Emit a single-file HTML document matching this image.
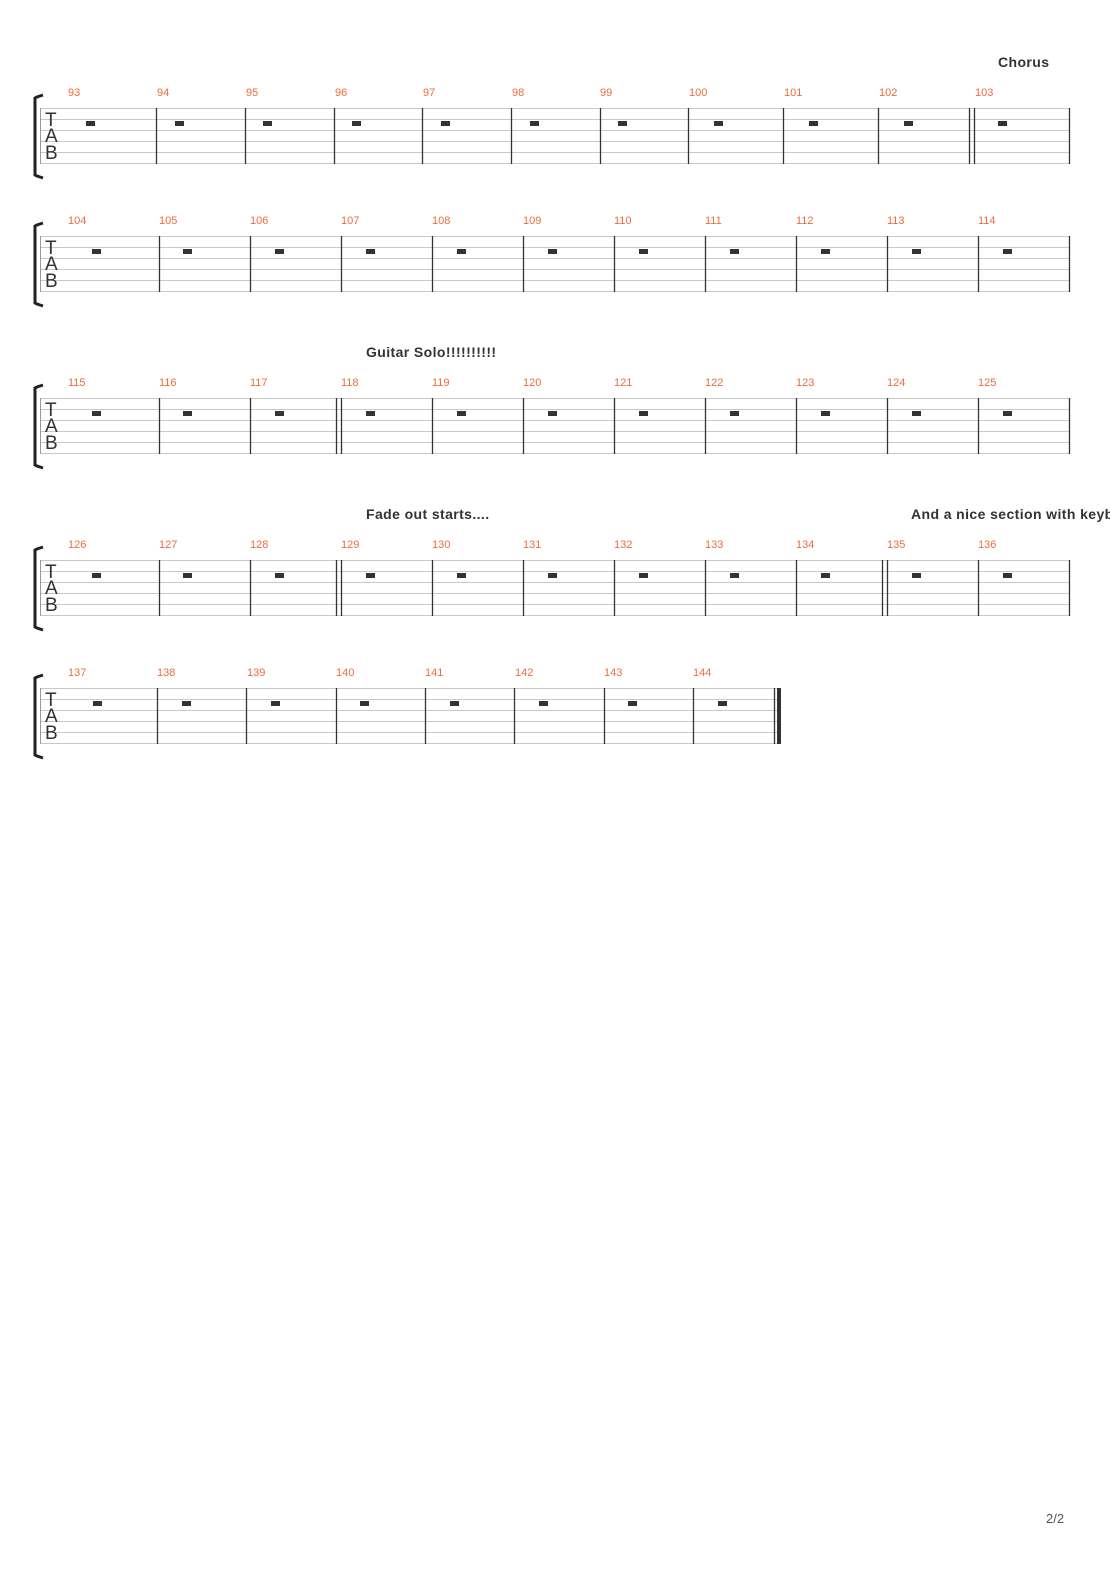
<!DOCTYPE html>
<html><head><meta charset="utf-8"><style>
html,body{margin:0;padding:0;background:#fff;width:1110px;height:1570px;overflow:hidden}
svg{display:block}
.n{font-family:"Liberation Sans",sans-serif;font-size:11px;fill:#f26a3c}
.t{font-family:"Liberation Sans",sans-serif;font-size:14px;font-weight:bold;fill:#333;letter-spacing:0.4px}
.tab{font-family:"Liberation Sans",sans-serif;font-size:19px;fill:#333}
.sl line{stroke:#c8c8c8;stroke-width:1}
.b{stroke:#333;stroke-width:1.3}
.r{fill:#333}
</style></head><body>
<svg width="1110" height="1570" viewBox="0 0 1110 1570" xmlns="http://www.w3.org/2000/svg">
<defs>
<g id="staff"><g class="sl">
<line x1="40" y1="0.5" x2="1069" y2="0.5"/><line x1="40" y1="11.5" x2="1069" y2="11.5"/><line x1="40" y1="22.5" x2="1069" y2="22.5"/><line x1="40" y1="33.5" x2="1069" y2="33.5"/><line x1="40" y1="44.5" x2="1069" y2="44.5"/><line x1="40" y1="55.5" x2="1069" y2="55.5"/>
</g>
<line x1="40.5" y1="0" x2="40.5" y2="56" stroke="#999" stroke-width="1"/>
<path d="M43,-13 L37,-11 L35,-10 L35,67 L37,68 L43,70" fill="none" stroke="#222" stroke-width="3"/>
<text class="tab" x="45" y="18">T</text>
<text class="tab" x="45" y="34">A</text>
<text class="tab" x="45" y="51">B</text>
</g>
<g id="staff5"><g class="sl">
<line x1="40" y1="0.5" x2="779" y2="0.5"/><line x1="40" y1="11.5" x2="779" y2="11.5"/><line x1="40" y1="22.5" x2="779" y2="22.5"/><line x1="40" y1="33.5" x2="779" y2="33.5"/><line x1="40" y1="44.5" x2="779" y2="44.5"/><line x1="40" y1="55.5" x2="779" y2="55.5"/>
</g>
<line x1="40.5" y1="0" x2="40.5" y2="56" stroke="#999" stroke-width="1"/>
<path d="M43,-13 L37,-11 L35,-10 L35,67 L37,68 L43,70" fill="none" stroke="#222" stroke-width="3"/>
<text class="tab" x="45" y="18">T</text>
<text class="tab" x="45" y="34">A</text>
<text class="tab" x="45" y="51">B</text>
</g>
</defs>

<text class="t" x="998" y="67">Chorus</text>
<text class="t" x="366" y="357">Guitar Solo!!!!!!!!!!</text>
<text class="t" x="366" y="519">Fade out starts....</text>
<text class="t" x="911" y="519">And a nice section with keyboards</text>
<text x="1046" y="1523" font-family="Liberation Sans,sans-serif" font-size="13" fill="#555">2/2</text>

<!-- System 1 -->
<g transform="translate(0,108)">
<use href="#staff"/>
<g class="b">
<line x1="156.5" y1="0" x2="156.5" y2="56"/><line x1="245.5" y1="0" x2="245.5" y2="56"/><line x1="334.5" y1="0" x2="334.5" y2="56"/><line x1="422.5" y1="0" x2="422.5" y2="56"/><line x1="511.5" y1="0" x2="511.5" y2="56"/><line x1="600.5" y1="0" x2="600.5" y2="56"/><line x1="688.5" y1="0" x2="688.5" y2="56"/><line x1="783.5" y1="0" x2="783.5" y2="56"/><line x1="878.5" y1="0" x2="878.5" y2="56"/><line x1="969.5" y1="0" x2="969.5" y2="56"/><line x1="974.5" y1="0" x2="974.5" y2="56"/><line x1="1069.5" y1="0" x2="1069.5" y2="56"/>
</g>
<g class="r">
<rect x="86" y="13" width="9" height="5"/><rect x="175" y="13" width="9" height="5"/><rect x="263" y="13" width="9" height="5"/><rect x="352" y="13" width="9" height="5"/><rect x="441" y="13" width="9" height="5"/><rect x="530" y="13" width="9" height="5"/><rect x="618" y="13" width="9" height="5"/><rect x="714" y="13" width="9" height="5"/><rect x="809" y="13" width="9" height="5"/><rect x="904" y="13" width="9" height="5"/><rect x="998" y="13" width="9" height="5"/>
</g>
<g class="n">
<text x="68" y="-12">93</text><text x="157" y="-12">94</text><text x="246" y="-12">95</text><text x="335" y="-12">96</text><text x="423" y="-12">97</text><text x="512" y="-12">98</text><text x="600" y="-12">99</text><text x="689" y="-12">100</text><text x="784" y="-12">101</text><text x="879" y="-12">102</text><text x="975" y="-12">103</text>
</g>
</g>

<!-- System 2 -->
<g transform="translate(0,236)">
<use href="#staff"/>
<g class="b">
<line x1="159.5" y1="0" x2="159.5" y2="56"/><line x1="250.5" y1="0" x2="250.5" y2="56"/><line x1="341.5" y1="0" x2="341.5" y2="56"/><line x1="432.5" y1="0" x2="432.5" y2="56"/><line x1="523.5" y1="0" x2="523.5" y2="56"/><line x1="614.5" y1="0" x2="614.5" y2="56"/><line x1="705.5" y1="0" x2="705.5" y2="56"/><line x1="796.5" y1="0" x2="796.5" y2="56"/><line x1="887.5" y1="0" x2="887.5" y2="56"/><line x1="978.5" y1="0" x2="978.5" y2="56"/><line x1="1069.5" y1="0" x2="1069.5" y2="56"/>
</g>
<g class="r">
<rect x="92" y="13" width="9" height="5"/><rect x="183" y="13" width="9" height="5"/><rect x="275" y="13" width="9" height="5"/><rect x="366" y="13" width="9" height="5"/><rect x="457" y="13" width="9" height="5"/><rect x="548" y="13" width="9" height="5"/><rect x="639" y="13" width="9" height="5"/><rect x="730" y="13" width="9" height="5"/><rect x="821" y="13" width="9" height="5"/><rect x="912" y="13" width="9" height="5"/><rect x="1003" y="13" width="9" height="5"/>
</g>
<g class="n">
<text x="68" y="-12">104</text><text x="159" y="-12">105</text><text x="250" y="-12">106</text><text x="341" y="-12">107</text><text x="432" y="-12">108</text><text x="523" y="-12">109</text><text x="614" y="-12">110</text><text x="705" y="-12">111</text><text x="796" y="-12">112</text><text x="887" y="-12">113</text><text x="978" y="-12">114</text>
</g>
</g>

<!-- System 3 -->
<g transform="translate(0,398)">
<use href="#staff"/>
<g class="b">
<line x1="159.5" y1="0" x2="159.5" y2="56"/><line x1="250.5" y1="0" x2="250.5" y2="56"/><line x1="336.5" y1="0" x2="336.5" y2="56"/><line x1="341.5" y1="0" x2="341.5" y2="56"/><line x1="432.5" y1="0" x2="432.5" y2="56"/><line x1="523.5" y1="0" x2="523.5" y2="56"/><line x1="614.5" y1="0" x2="614.5" y2="56"/><line x1="705.5" y1="0" x2="705.5" y2="56"/><line x1="796.5" y1="0" x2="796.5" y2="56"/><line x1="887.5" y1="0" x2="887.5" y2="56"/><line x1="978.5" y1="0" x2="978.5" y2="56"/><line x1="1069.5" y1="0" x2="1069.5" y2="56"/>
</g>
<g class="r">
<rect x="92" y="13" width="9" height="5"/><rect x="183" y="13" width="9" height="5"/><rect x="275" y="13" width="9" height="5"/><rect x="366" y="13" width="9" height="5"/><rect x="457" y="13" width="9" height="5"/><rect x="548" y="13" width="9" height="5"/><rect x="639" y="13" width="9" height="5"/><rect x="730" y="13" width="9" height="5"/><rect x="821" y="13" width="9" height="5"/><rect x="912" y="13" width="9" height="5"/><rect x="1003" y="13" width="9" height="5"/>
</g>
<g class="n">
<text x="68" y="-12">115</text><text x="159" y="-12">116</text><text x="250" y="-12">117</text><text x="341" y="-12">118</text><text x="432" y="-12">119</text><text x="523" y="-12">120</text><text x="614" y="-12">121</text><text x="705" y="-12">122</text><text x="796" y="-12">123</text><text x="887" y="-12">124</text><text x="978" y="-12">125</text>
</g>
</g>

<!-- System 4 -->
<g transform="translate(0,560)">
<use href="#staff"/>
<g class="b">
<line x1="159.5" y1="0" x2="159.5" y2="56"/><line x1="250.5" y1="0" x2="250.5" y2="56"/><line x1="336.5" y1="0" x2="336.5" y2="56"/><line x1="341.5" y1="0" x2="341.5" y2="56"/><line x1="432.5" y1="0" x2="432.5" y2="56"/><line x1="523.5" y1="0" x2="523.5" y2="56"/><line x1="614.5" y1="0" x2="614.5" y2="56"/><line x1="705.5" y1="0" x2="705.5" y2="56"/><line x1="796.5" y1="0" x2="796.5" y2="56"/><line x1="882.5" y1="0" x2="882.5" y2="56"/><line x1="887.5" y1="0" x2="887.5" y2="56"/><line x1="978.5" y1="0" x2="978.5" y2="56"/><line x1="1069.5" y1="0" x2="1069.5" y2="56"/>
</g>
<g class="r">
<rect x="92" y="13" width="9" height="5"/><rect x="183" y="13" width="9" height="5"/><rect x="275" y="13" width="9" height="5"/><rect x="366" y="13" width="9" height="5"/><rect x="457" y="13" width="9" height="5"/><rect x="548" y="13" width="9" height="5"/><rect x="639" y="13" width="9" height="5"/><rect x="730" y="13" width="9" height="5"/><rect x="821" y="13" width="9" height="5"/><rect x="912" y="13" width="9" height="5"/><rect x="1003" y="13" width="9" height="5"/>
</g>
<g class="n">
<text x="68" y="-12">126</text><text x="159" y="-12">127</text><text x="250" y="-12">128</text><text x="341" y="-12">129</text><text x="432" y="-12">130</text><text x="523" y="-12">131</text><text x="614" y="-12">132</text><text x="705" y="-12">133</text><text x="796" y="-12">134</text><text x="887" y="-12">135</text><text x="978" y="-12">136</text>
</g>
</g>

<!-- System 5 -->
<g transform="translate(0,688)">
<use href="#staff5"/>
<g class="b">
<line x1="157.5" y1="0" x2="157.5" y2="56"/><line x1="246.5" y1="0" x2="246.5" y2="56"/><line x1="336.5" y1="0" x2="336.5" y2="56"/><line x1="425.5" y1="0" x2="425.5" y2="56"/><line x1="514.5" y1="0" x2="514.5" y2="56"/><line x1="604.5" y1="0" x2="604.5" y2="56"/><line x1="693.5" y1="0" x2="693.5" y2="56"/><line x1="774.5" y1="0" x2="774.5" y2="56"/>
</g>
<rect x="777" y="0" width="4" height="56" fill="#333"/>
<g class="r">
<rect x="93" y="13" width="9" height="5"/><rect x="182" y="13" width="9" height="5"/><rect x="271" y="13" width="9" height="5"/><rect x="360" y="13" width="9" height="5"/><rect x="450" y="13" width="9" height="5"/><rect x="539" y="13" width="9" height="5"/><rect x="628" y="13" width="9" height="5"/><rect x="718" y="13" width="9" height="5"/>
</g>
<g class="n">
<text x="68" y="-12">137</text><text x="157" y="-12">138</text><text x="247" y="-12">139</text><text x="336" y="-12">140</text><text x="425" y="-12">141</text><text x="515" y="-12">142</text><text x="604" y="-12">143</text><text x="693" y="-12">144</text>
</g>
</g>
</svg>
</body></html>
